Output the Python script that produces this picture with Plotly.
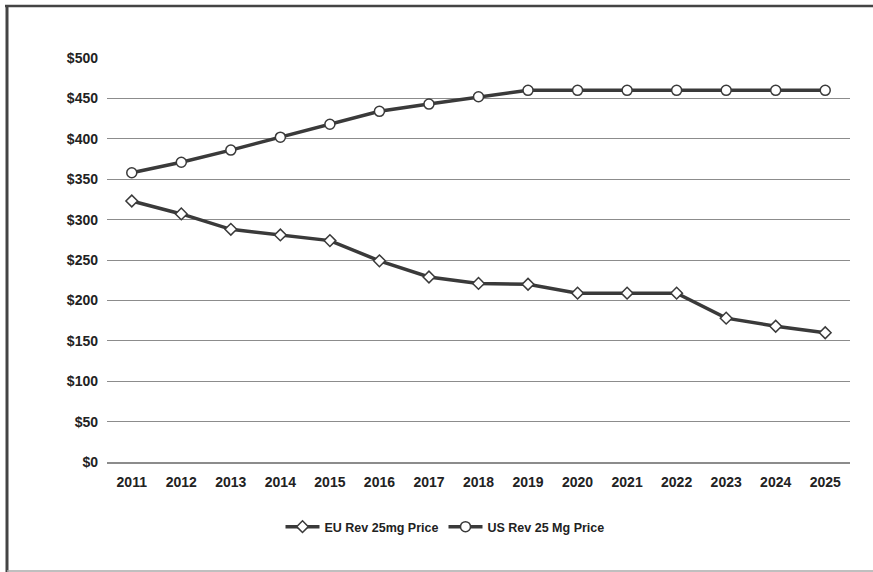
import plotly.graph_objects as go

years = [str(y) for y in range(2011, 2026)]
eu_price = [323, 307, 288, 281, 274, 249, 229, 221, 220, 209, 209, 209, 178, 168, 160]
us_price = [358, 371, 386, 402, 418, 434, 443, 452, 460, 460, 460, 460, 460, 460, 460]
y_ticks = [0, 50, 100, 150, 200, 250, 300, 350, 400, 450, 500]
y_labels = ["$" + str(v) for v in y_ticks]

L, R, T, B = 107, 23, 58, 110
PW, PH = 873 - L - R, 572 - T - B


def px(x):
    return (x - L) / PW


def py(y):
    return (462 - y) / PH


fig = go.Figure()
fig.add_trace(go.Scatter(
    x=years, y=eu_price, name="EU Rev 25mg Price", mode="lines+markers",
    line=dict(color="#3a3a3a", width=3.5),
    marker=dict(symbol="diamond", size=9, color="white", line=dict(color="#3a3a3a", width=1.5)),
))
fig.add_trace(go.Scatter(
    x=years, y=us_price, name="US Rev 25 Mg Price", mode="lines+markers",
    line=dict(color="#3a3a3a", width=3.5),
    marker=dict(symbol="circle", size=10, color="white", line=dict(color="#3a3a3a", width=1.5)),
))

fig.update_layout(
    width=873, height=572,
    paper_bgcolor="white", plot_bgcolor="white",
    margin=dict(l=L, r=R, t=T, b=B),
    font=dict(family="Liberation Sans, Arial, sans-serif", size=14, color="#222222", weight="bold"),
    showlegend=True,
    legend=dict(orientation="h", x=px(445), xanchor="center", y=py(527), yanchor="middle",
                font=dict(size=12.5, weight="bold"), itemwidth=34, traceorder="normal"),
    xaxis=dict(type="category", range=[-0.5, len(years) - 0.5], showgrid=False, showline=True,
               linecolor="#8c8c8c", linewidth=1.5,
               ticks="", ticklabelstandoff=6, tickfont=dict(size=14, weight="bold"), fixedrange=True),
    yaxis=dict(range=[0, 500], tickvals=y_ticks, ticktext=y_labels, showgrid=True,
               gridcolor="#8c8c8c", gridwidth=1, zeroline=False, showline=False,
               ticks="", ticklabelstandoff=8, tickfont=dict(size=14, weight="bold"), fixedrange=True),
    shapes=[
        dict(type="line", xref="paper", yref="paper", x0=px(5), x1=px(873), y0=py(6), y1=py(6),
             line=dict(color="#444444", width=2.5)),
        dict(type="line", xref="paper", yref="paper", x0=px(7), x1=px(7), y0=py(5), y1=py(572),
             line=dict(color="#444444", width=3)),
        dict(type="line", xref="paper", yref="paper", x0=px(7), x1=px(873), y0=py(571), y1=py(571),
             line=dict(color="#aaaaaa", width=1.5)),
    ],
)

fig.write_html("out.html", config={"displayModeBar": False},
               post_script="document.body.style.margin='0';document.body.style.overflow='hidden';")
